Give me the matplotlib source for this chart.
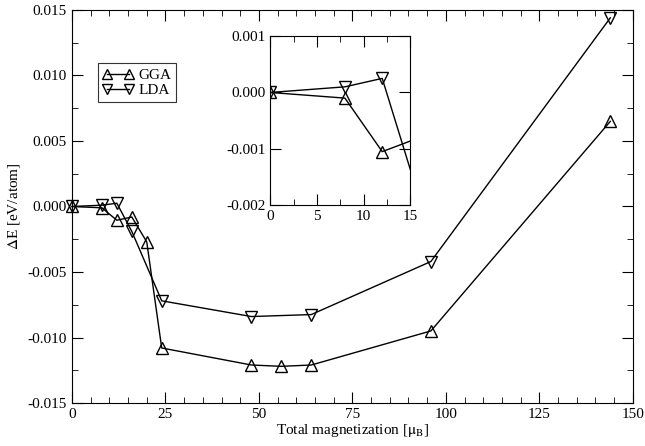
import matplotlib
matplotlib.use('Agg')
import matplotlib.pyplot as plt
from matplotlib.ticker import MultipleLocator, FormatStrFormatter

plt.rcParams['font.family'] = ['Liberation Serif', 'DejaVu Serif']
plt.rcParams['mathtext.fontset'] = 'stix'

# data
mag_gga = [0, 8, 12, 16, 20, 24, 48, 56, 64, 96, 144]
de_gga = [0.0, -0.0001, -0.00105, -0.0008, -0.0027, -0.0108, -0.0121, -0.0122, -0.0121, -0.0095, 0.0065]
mag_lda = [0, 8, 12, 16, 24, 48, 64, 96, 144]
de_lda = [0.0, 0.0001, 0.00025, -0.0019, -0.0072, -0.0084, -0.00825, -0.0042, 0.0144]

mk = dict(color='black', lw=1.0, mfc='none', mec='black', ms=9, mew=1.0)

fig = plt.figure(figsize=(6.45, 4.46), dpi=100)
ax = fig.add_axes([0.1116, 0.0964, 0.8694, 0.8812])
ax.plot(mag_gga, de_gga, marker='^', label='GGA', clip_on=False, **mk)
ax.plot(mag_lda, de_lda, marker='v', label='LDA', clip_on=False, **mk)
ax.set_xlim(0, 150)
ax.set_ylim(-0.015, 0.015)
ax.xaxis.set_major_locator(MultipleLocator(25))
ax.xaxis.set_minor_locator(MultipleLocator(5))
ax.yaxis.set_major_locator(MultipleLocator(0.005))
ax.yaxis.set_minor_locator(MultipleLocator(0.0025))
ax.yaxis.set_major_formatter(FormatStrFormatter('%.3f'))
ax.tick_params(which='both', direction='in', top=True, right=True, labelsize=11)
ax.tick_params(which='major', length=8)
ax.tick_params(which='minor', length=4)
ax.set_xlabel(r'Total magnetization [$\mathrm{\mu_B}$]', fontsize=11, labelpad=1)
ax.set_ylabel(r'$\Delta$E [eV/atom]', fontsize=11)
leg = ax.legend(loc='upper left', bbox_to_anchor=(0.032, 0.885), numpoints=2,
                fancybox=False, edgecolor='black', fontsize=11, handlelength=2.0,
                markerscale=0.75, borderpad=0.35, labelspacing=0.1, handletextpad=0.3)
leg.get_frame().set_linewidth(0.8)

ins = fig.add_axes([0.419, 0.540, 0.217, 0.379])
ins.plot(mag_gga, de_gga, marker='^', **mk)
ins.plot(mag_lda, de_lda, marker='v', **mk)
ins.set_xlim(0, 15)
ins.set_ylim(-0.002, 0.001)
ins.xaxis.set_major_locator(MultipleLocator(5))
ins.xaxis.set_minor_locator(MultipleLocator(2.5))
ins.yaxis.set_major_locator(MultipleLocator(0.001))
ins.yaxis.set_major_formatter(FormatStrFormatter('%.3f'))
ins.tick_params(which='both', direction='in', top=True, right=True, labelsize=11)
ins.tick_params(which='major', length=8)
ins.tick_params(which='minor', length=4)

fig.savefig('out.png', dpi=100)
